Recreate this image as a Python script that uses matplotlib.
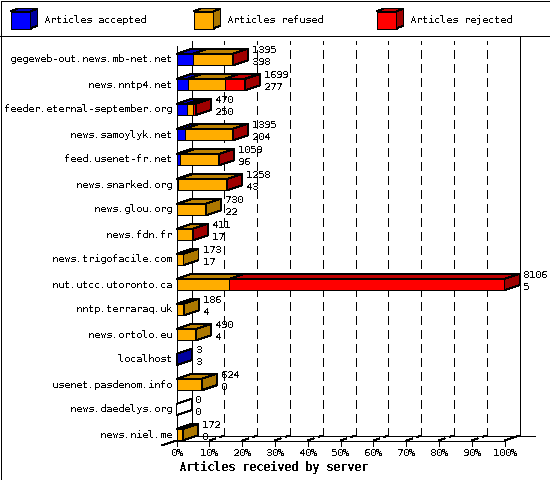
import matplotlib
matplotlib.use('Agg')
import matplotlib.pyplot as plt
from matplotlib.patches import Polygon, Rectangle

servers = ['gegeweb-out.news.mb-net.net', 'news.nntp4.net', 'feeder.eternal-september.org',
           'news.samoylyk.net', 'feed.usenet-fr.net', 'news.snarked.org', 'news.glou.org',
           'news.fdn.fr', 'news.trigofacile.com', 'nut.utcc.utoronto.ca', 'nntp.terraraq.uk',
           'news.ortolo.eu', 'localhost', 'usenet.pasdenom.info', 'news.daedelys.org', 'news.niel.me']
accepted = [398, 277, 250, 204, 96, 43, 22, 17, 17, 5, 4, 4, 3, 0, 0, 0]
refused = [996, 927, 170, 1190, 962, 1214, 708, 393, 156, 1300, 182, 486, 0, 624, 0, 172]
rejected = [1, 495, 50, 1, 1, 1, 0, 1, 0, 6801, 0, 0, 0, 0, 0, 0]
totals = [1395, 1699, 470, 1395, 1059, 1258, 730, 411, 173, 8106, 186, 490, 3, 624, 0, 172]
legend_names = ['Articles accepted', 'Articles refused', 'Articles rejected']
percent_ticks = list(range(0, 101, 10))

FACES = [('#0000ff', '#0000c0', '#0000a0'),
         ('#ffad00', '#be8200', '#ad7800'),
         ('#ff0000', '#c00000', '#a00000')]

PX_X = 3.28   # pixels per percent
PX_Y = 25.0   # pixels per row
DX = 15 / PX_X
DY = 5 / PX_Y
HALF = 5.75 / PX_Y
FS = 7.4

plt.rcParams['font.family'] = 'DejaVu Sans Mono'
plt.rcParams['text.antialiased'] = False
plt.rcParams['text.hinting'] = 'no_autohint'
plt.rcParams['text.hinting_factor'] = 1
plt.rcParams['lines.scale_dashes'] = False

fig = plt.figure(figsize=(5.5, 4.8), dpi=100)
ax = fig.add_axes([0, 0, 1, 1])
ax.set_xlim(-176.5 / PX_X, (550 - 176.5) / PX_X)
ax.set_ylim((480 - 59.5) / PX_Y, -59.5 / PX_Y)
ax.axis('off')

LW = 0.7


def line(xs, ys, z=2, **kw):
    ax.plot(xs, ys, color='black', lw=LW, antialiased=False, solid_capstyle='butt', zorder=z, **kw)


def poly(points, color, z=3):
    ax.add_patch(Polygon(points, closed=True, facecolor=color, edgecolor='black', lw=LW,
                         antialiased=False, zorder=z))


floor = 15.24
line([0, 0], [-0.56, floor])
line([DX, DX], [-0.56 - DY, floor - DY])
line([100 + DX, 100 + DX], [-0.96, floor - DY])
line([0, 100], [floor, floor])
line([DX, 109.3], [floor - DY, floor - DY])
line([0, -DX], [floor, floor + DY])
line([100, 100 + DX], [floor, floor - DY])

for p in percent_ticks:
    line([p, p], [floor, floor + DY])
    ax.text(p, floor + 0.5, f'{p}%', ha='center', va='center', fontsize=FS)
    if 0 < p < 100:
        ax.plot([p + DX, p + DX], [floor - DY, -0.76], color='black', lw=LW, antialiased=False,
                linestyle=(0, (5.8, 4.3)), dash_capstyle='butt', zorder=1)
        ax.plot([p, p + DX], [floor, floor - DY], color='black', lw=LW, antialiased=False,
                linestyle=(0, (5.0, 3.0)), dash_capstyle='butt', zorder=1)

for row, name in enumerate(servers):
    scale = 100.0 / max(totals)
    top, bot = row - HALF, row + HALF
    start = 0.0
    last = None
    for value, face in zip((accepted[row], refused[row], rejected[row]), FACES):
        if value == 0:
            continue
        end = start + value * scale
        poly([(start, bot), (end, bot), (end, top), (start, top)], face[0])
        poly([(start, top), (end, top), (end + DX, top - DY), (start + DX, top - DY)], face[1])
        start = end
        last = face
    side = last[2] if last else 'white'
    poly([(start, bot), (start, top), (start + DX, top - DY), (start + DX, bot - DY)], side, z=4)
    if last is None:
        poly([(0, top), (DX, top - DY), (DX, bot - DY), (0, bot)], 'white', z=1.5)
    label_x = totals[row] * scale + DX + 4 / PX_X
    ax.text(label_x, row - 0.37, str(totals[row]), ha='left', va='center', fontsize=FS, zorder=5)
    ax.text(label_x, row + 0.09, str(accepted[row]), ha='left', va='center', fontsize=FS, zorder=5)
    ax.text(-4.5 / PX_X, row, name, ha='right', va='center', fontsize=FS, zorder=5)

ax.text(0.8, floor + 1.07, 'Articles received by server', ha='left', va='center',
        fontsize=8.4, fontweight='bold')

# header band and outer frame, in pixels
top_ax = fig.add_axes([0, 0, 1, 1])
top_ax.set_xlim(0, 550)
top_ax.set_ylim(480, 0)
top_ax.axis('off')
top_ax.patch.set_alpha(0)
top_ax.add_patch(Rectangle((0.5, 0.5), 549, 479, fill=False, edgecolor='black', lw=LW, antialiased=False))
top_ax.plot([0, 550], [35.5, 35.5], color='black', lw=LW, antialiased=False)
for x, name, face in zip((10.5, 193.5, 376.5), legend_names, FACES):
    top_ax.add_patch(Polygon([(x, 28.5), (x + 20, 28.5), (x + 20, 11.5), (x, 11.5)], facecolor=face[0],
                             edgecolor='black', lw=LW, antialiased=False))
    top_ax.add_patch(Polygon([(x, 11.5), (x + 20, 11.5), (x + 27, 8.5), (x + 7, 8.5)], facecolor=face[1],
                             edgecolor='black', lw=LW, antialiased=False))
    top_ax.add_patch(Polygon([(x + 20, 28.5), (x + 20, 11.5), (x + 27, 8.5), (x + 27, 25.5)], facecolor=face[2],
                             edgecolor='black', lw=LW, antialiased=False))
    top_ax.text(x + 33.5, 20, name, ha='left', va='center', fontsize=FS)

fig.savefig('out.png', dpi=100)
